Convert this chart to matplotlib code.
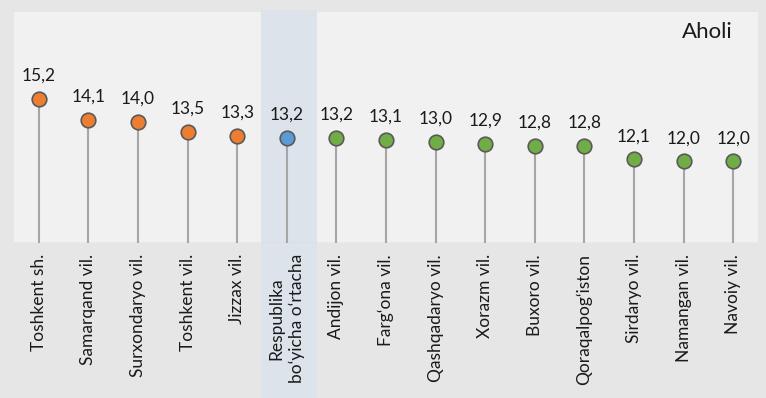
import matplotlib
matplotlib.use("Agg")
import matplotlib.pyplot as plt
import matplotlib.transforms as mtransforms
from matplotlib.patches import Rectangle

categories = ["Toshkent sh.", "Samarqand vil.", "Surxondaryo vil.", "Toshkent vil.",
              "Jizzax vil.", "Respublika\nbo\u2018yicha o\u2018rtacha", "Andijon vil.",
              "Farg\u2018ona vil.", "Qashqadaryo vil.", "Xorazm vil.", "Buxoro vil.",
              "Qoraqalpog\u2018iston", "Sirdaryo vil.", "Namangan vil.", "Navoiy vil."]
values = [15.2, 14.1, 14.0, 13.5, 13.3, 13.2, 13.2, 13.1, 13.0, 12.9, 12.8, 12.8, 12.1, 12.0, 12.0]
groups = ["high"] * 5 + ["avg"] + ["low"] * 9
highlight_index = 5
title_text = "Aholi"

group_colors = {"high": "#ED7D31", "avg": "#5B9BD5", "low": "#70AD47"}

plt.rcParams['font.family'] = ['Lato', 'DejaVu Sans']

fig = plt.figure(figsize=(7.66, 3.98), dpi=100)
fig.patch.set_facecolor("#e6e6e6")
ax = fig.add_axes([14/766, 1 - 243/398, 744/766, 231/398])

ymin, ymax = 7.85, 19.6
ax.set_xlim(-0.5, len(categories) - 0.5)
ax.set_ylim(ymin, ymax)

# plot-area background
fig.patches.append(Rectangle((14/766, 1 - 243/398), 744/766, 231/398,
                             transform=fig.transFigure, facecolor="#f1f1f1",
                             edgecolor="none", zorder=0.1))
# highlight band spanning axes and label area
trans = mtransforms.blended_transform_factory(ax.transData, fig.transFigure)
fig.patches.append(Rectangle((highlight_index - 0.53, 0), 1.14, 1 - 10/398,
                             transform=trans, facecolor="#dce3eb",
                             edgecolor="none", zorder=0.5))
ax.set_zorder(1)
ax.patch.set_alpha(0)

xs = list(range(len(categories)))
ax.vlines(xs, ymin, values, color="#a6a6a6", linewidth=1.5, zorder=2)
for x, v, g in zip(xs, values, groups):
    ax.plot(x, v, marker="o", markersize=10.5, markerfacecolor=group_colors[g],
            markeredgecolor="#595959", markeredgewidth=1.2, zorder=3)
    ax.annotate(f"{v:.1f}".replace(".", ","), (x, v), xytext=(0, 11),
                textcoords="offset points", ha="center", va="bottom",
                fontsize=12.5, color="#1a1a1a")

ax.text(0.966, 0.955, title_text, transform=ax.transAxes, ha="right", va="top",
        fontsize=16, color="#1a1a1a")

ax.set_xticks(xs)
ax.set_xticklabels(categories, rotation=90, fontsize=12.5, color="#1a1a1a",
                   ha="center", va="top", multialignment="center")
for lbl in ax.get_xticklabels():
    lbl.set_linespacing(1.35)
ax.tick_params(axis="x", length=0, pad=8)
ax.set_yticks([])
for s in ax.spines.values():
    s.set_visible(False)
ax.axhline(ymin, color="#d0d0d0", linewidth=1.0, zorder=1)

fig.savefig("out.png", dpi=100, facecolor=fig.get_facecolor())
